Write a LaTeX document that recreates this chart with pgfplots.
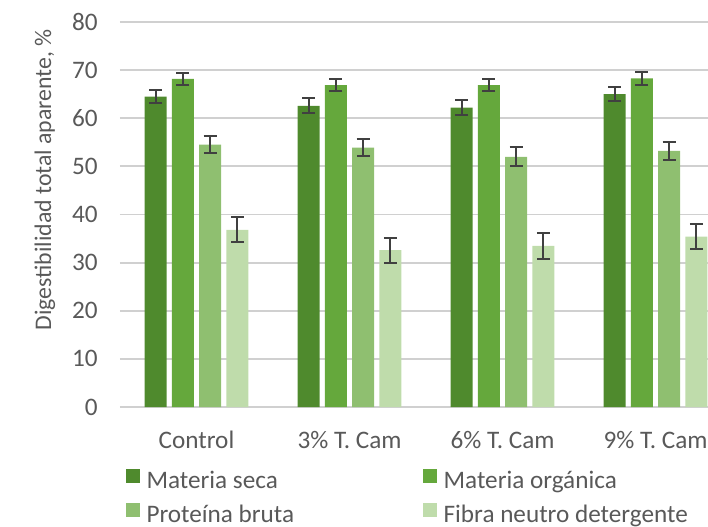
\documentclass[border=0pt]{standalone}
\usepackage{pgfplots}
\pgfplotsset{compat=1.18}
\usepackage{pgfplotstable}
\usepackage{fontspec}
\setmainfont{Carlito}
\definecolor{cMS}{HTML}{4F8A2D}
\definecolor{cMO}{HTML}{65A83C}
\definecolor{cPB}{HTML}{8FBF70}
\definecolor{cFND}{HTML}{BFDCAB}
\definecolor{txtgray}{HTML}{595959}
\definecolor{gridgray}{HTML}{D0D0D0}
\definecolor{errgray}{HTML}{404040}
\pgfplotstableread{
x ms msE mo moE pb pbE fnd fndE
0 64.5 1.4 68.2 1.2 54.5 1.8 36.8 2.6
1 62.6 1.6 66.9 1.2 53.9 1.8 32.6 2.6
2 62.2 1.6 66.9 1.2 52.0 2.0 33.5 2.7
3 65.0 1.5 68.3 1.3 53.2 1.9 35.4 2.6
}\datatable
\pgfplotsset{myerr/.style={error bars/.cd, y dir=both, y explicit,
    error bar style={line width=1pt, color=errgray},
    error mark options={rotate=90, mark size=3.25pt, line width=1pt, color=errgray}}}
\begin{document}
\begin{tikzpicture}[font=\fontsize{12.6}{15}\selectfont]
\useasboundingbox (0,0) rectangle (354pt,263pt);
\begin{axis}[
  at={(60pt,59.5pt)}, anchor=south west,
  scale only axis, width=294pt, height=192.5pt,
  xmin=-0.5, xmax=3.343, ymin=0, ymax=80,
  ytick={0,10,...,80},
  xtick={0,1,2,3},
  xticklabels={Control, 3\% T. Cam, 6\% T. Cam, 9\% T. Cam},
  axis line style={draw=none},
  major tick length=0pt,
  ymajorgrids, grid style={gridgray, line width=0.9pt},
  /pgf/number format/assume math mode=true,
  yticklabel style={anchor=east, inner sep=0pt, xshift=-11pt, text=txtgray},
  xticklabel style={anchor=base, inner sep=0pt, yshift=-20.5pt, text=txtgray},
  ylabel={Digestibilidad total aparente, \%},
  ylabel style={at={(axis description cs:-0.1276,0.59)}, anchor=center, text=txtgray, inner sep=0pt, font=\fontsize{11.9}{14}\selectfont},
  ybar=2.65pt, bar width=11pt,
  clip=false,
  legend columns=2,
  legend image code/.code={\path[#1] (0pt,0pt) rectangle (7pt,7pt);},
  legend style={draw=none, fill=none, inner sep=0pt, outer sep=0pt,
    at={([xshift=3pt,yshift=-31pt]axis description cs:0,0)}, anchor=north west,
    text=txtgray, row sep=5pt, column sep=3.25pt,
    nodes={inner sep=0pt, text height=0.75em, text depth=0.25em},
    /tikz/every even column/.append style={column sep=64.5pt}},
  legend cell align=left,
]
\addplot[fill=cMS, draw=none, myerr] table[x=x, y=ms, y error=msE] {\datatable};
\addplot[fill=cMO, draw=none, myerr] table[x=x, y=mo, y error=moE] {\datatable};
\addplot[fill=cPB, draw=none, myerr] table[x=x, y=pb, y error=pbE] {\datatable};
\addplot[fill=cFND, draw=none, myerr] table[x=x, y=fnd, y error=fndE] {\datatable};
\legend{Materia seca, Materia orgánica, Proteína bruta, Fibra neutro detergente}
\end{axis}
\end{tikzpicture}
\end{document}
